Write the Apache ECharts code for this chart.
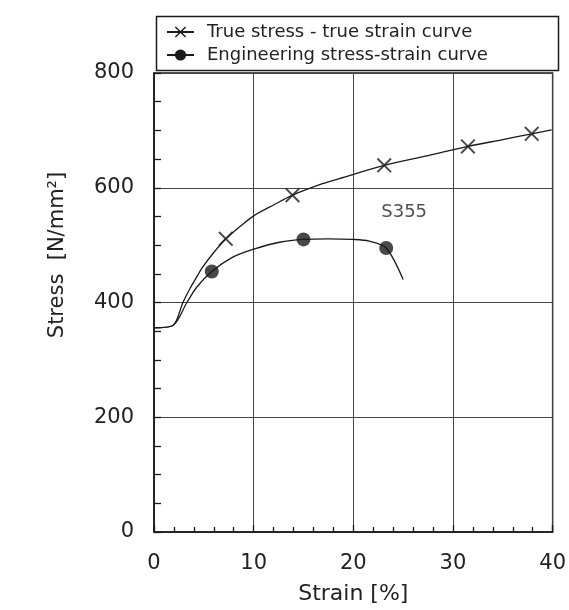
<!DOCTYPE html>
<html><head><meta charset="utf-8">
<script src="https://cdn.jsdelivr.net/npm/echarts@6/dist/echarts.min.js"></script>
<style>html,body{margin:0;padding:0;background:#fff}#c{width:569px;height:610px}</style>
</head><body><div id="c"></div>
<script>
// True stress - true strain curve (strain %, stress N/mm2)
const trueStrain = [0, 1.9, 2.9, 3.6, 4.3, 4.9, 5.9, 7.2, 8.6, 10, 12, 13.9, 16.9, 18.6, 23.1, 27.5, 31.5, 35, 37.9, 39.9];
const trueStress = [356, 360, 400, 424, 445, 462, 485, 511, 532, 551, 570, 587, 607, 616, 639, 656, 672, 684, 694, 701];
const trueMarkStrain = [7.2, 13.9, 23.1, 31.5, 37.9];
const trueMarkStress = [511, 587, 639, 672, 694];
// Engineering stress-strain curve
const engStrain = [0, 1.9, 3.3, 4.3, 5.8, 7.9, 10, 12.6, 15.0, 17.5, 19.9, 21.6, 23.3, 25.0];
const engStress = [356, 360, 400, 427, 454, 479, 493, 505, 510, 511, 510, 507, 495, 440];
const engMarkStrain = [5.8, 15.0, 23.3];
const engMarkStress = [454, 510, 495];
// annotation
const noteText = 'S355';
const notePos = [25.1, 558];
// axes
const xTicks = [0, 10, 20, 30, 40];
const yTicks = [0, 200, 400, 600, 800];
const names = ['True stress - true strain curve', 'Engineering stress-strain curve'];

const zip = (a, b) => a.map((v, i) => [v, b[i]]);
const FONT = 'DejaVu Sans';
const INK = '#1a1a1a';
const crossPath = 'path://M0,0.9L0.9,0L10,9.1L9.1,10Z M9.1,0L10,0.9L0.9,10L0,9.1Z';

const chart = echarts.init(document.getElementById('c'), null, {renderer: 'canvas'});
chart.setOption({
  animation: false,
  backgroundColor: '#fff',
  grid: {left: 154, right: 13, top: 73, bottom: 76, show: true, borderColor: INK, borderWidth: 1.5},
  graphic: [{
    type: 'rect', left: 154, top: 14,
    shape: {width: 402, height: 54},
    style: {fill: 'none', stroke: INK, lineWidth: 1.5}
  }],
  legend: {
    data: names, orient: 'vertical', left: 166, top: 23, padding: 0,
    itemWidth: 27, itemHeight: 14, itemGap: 5,
    textStyle: {fontFamily: FONT, fontSize: 18, color: '#222', padding: [0, 0, 0, 8]}
  },
  xAxis: {
    type: 'value', min: xTicks[0], max: xTicks[xTicks.length - 1], interval: xTicks[1] - xTicks[0],
    name: 'Strain [%]', nameLocation: 'middle', nameGap: 51,
    nameTextStyle: {fontFamily: FONT, fontSize: 22, color: '#222'},
    axisLine: {show: true, lineStyle: {color: INK, width: 1.5}},
    axisTick: {show: true, inside: true, length: 7, lineStyle: {color: INK, width: 1.3}},
    minorTick: {show: true, splitNumber: 5, length: 5, lineStyle: {color: INK, width: 1.3}},
    splitLine: {show: true, lineStyle: {color: '#444', width: 1}},
    axisLabel: {fontFamily: FONT, fontSize: 21, color: '#222', margin: 21}
  },
  yAxis: {
    type: 'value', min: yTicks[0], max: yTicks[yTicks.length - 1], interval: yTicks[1] - yTicks[0],
    name: 'Stress  [N/mm\u00B2]', nameLocation: 'middle', nameGap: 86,
    nameTextStyle: {fontFamily: FONT, fontSize: 21, color: '#222', padding: [0, 0, 0, 95]},
    axisLine: {show: true, lineStyle: {color: INK, width: 1.5}},
    axisTick: {show: true, inside: true, length: 7, lineStyle: {color: INK, width: 1.3}},
    minorTick: {show: true, splitNumber: 4, length: 7, lineStyle: {color: INK, width: 1.3}},
    splitLine: {show: true, lineStyle: {color: '#444', width: 1}},
    axisLabel: {fontFamily: FONT, fontSize: 21, color: '#222', margin: 20}
  },
  series: [
    {name: names[0], type: 'line', data: zip(trueStrain, trueStress), smooth: 0.3,
     symbol: crossPath, symbolSize: 14, showSymbol: false,
     lineStyle: {color: INK, width: 1.3}, itemStyle: {color: INK}, z: 3},
    {name: names[1], type: 'line', data: zip(engStrain, engStress), smooth: 0.3,
     symbol: 'circle', symbolSize: 14, showSymbol: false,
     lineStyle: {color: INK, width: 1.3}, itemStyle: {color: INK}, z: 3},
    {name: names[0], type: 'scatter', data: zip(trueMarkStrain, trueMarkStress),
     symbol: crossPath, symbolSize: 15, itemStyle: {color: INK}, z: 4},
    {name: names[1], type: 'scatter', data: zip(engMarkStrain, engMarkStress),
     symbol: 'circle', symbolSize: 14, itemStyle: {color: INK}, z: 4},
    {name: 'note', type: 'scatter', data: [notePos], symbolSize: 0, silent: true,
     label: {show: true, position: 'inside', formatter: noteText, fontFamily: FONT, fontSize: 18, color: '#222'}}
  ]
});
</script></body></html>
